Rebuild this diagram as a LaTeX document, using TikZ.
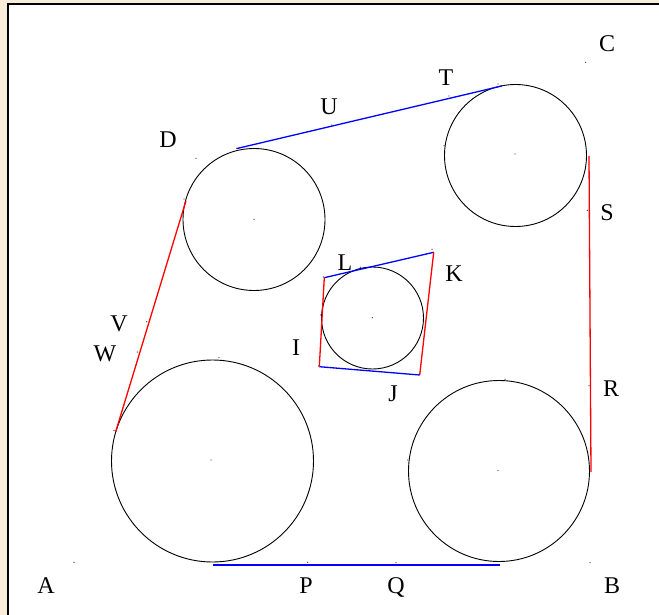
\documentclass[tikz,border=0pt]{standalone}
\usepackage{fontspec}
\setmainfont{Liberation Serif}
\definecolor{beige}{RGB}{249,236,216}
\begin{document}
\begin{tikzpicture}[x=1pt,y=-1pt,
  lbl/.style={font=\fontsize{24}{28}\selectfont, anchor=base, inner sep=0pt},
  dotm/.style={fill=black!75, draw=none},
  ring/.style={draw=black, line width=0.9pt},
  blueline/.style={blue, line width=1.3pt},
  redline/.style={red, line width=1.3pt}]
\useasboundingbox (0,0) rectangle (659,615);
\fill[beige] (0,0) rectangle (659,615);
\filldraw[fill=white, draw=black, line width=2pt] (8.3,4.3) rectangle (680,640);

% circle centres
\coordinate (c1) at (254,219.5);
\coordinate (c2) at (515.5,155.5);
\coordinate (c3) at (372.5,318);
\coordinate (c4) at (212.5,461);
\coordinate (c5) at (499,471);
\draw[ring] (c1) circle (71);
\draw[ring] (c2) circle (71);
\draw[ring] (c3) circle (51);
\draw[ring] (c4) circle (101);
\draw[ring] (c5) circle (90.5);

% belt points
\coordinate (t1) at (237,148.5);
\coordinate (t2) at (501.7,86);
\coordinate (t3) at (589,156);
\coordinate (t4) at (591,472);
\coordinate (t5) at (500.3,565);
\coordinate (t6) at (213.3,565);
\coordinate (t7) at (115.7,431.7);
\coordinate (t8) at (186,200.7);
\draw[blueline] (t1) -- (t2);
\draw[redline] (t3) -- (t4);
\draw[blueline] (t5) -- (t6);
\draw[redline] (t7) -- (t8);

% quadrilateral
\coordinate (q1) at (324.3,277.7);
\coordinate (q2) at (433.7,252.3);
\coordinate (q3) at (419.7,375);
\coordinate (q4) at (319.3,366.7);
\draw[blueline] (q1) -- (q2);
\draw[redline] (q2) -- (q3);
\draw[blueline] (q3) -- (q4);
\draw[redline] (q4) -- (q1);

% small point marks
\foreach \p in {(74,562.3),(590,562.7),(585.7,62.3),(196,158.3),(307.7,562.3),(396,562.7),
  (589,385.7),(587.3,210.3),(449,96),(331.7,125),(146.7,321.7),(137.3,352),
  (318.7,366),(418,374.3),(432,249.3),(360.3,267.3),
  (254,219.3),(515,154),(372.3,317.7),(211,460),(498,470.5),
  (236.7,148.3),(184,199),(498,84),(444,145.7),(323.3,277),(320.7,315),(375,267.7),
  (219,357.5),(114,430.3),(505,379.3),(407.7,460)}
  \fill[dotm] \p circle (0.7);

% labels
\node[lbl] (lA) at (46,593) {A};
\node[lbl] (lB) at (612,593) {B};
\node[lbl] (lC) at (607,52) {C};
\node[lbl] (lD) at (168,148) {D};
\node[lbl] (lP) at (306,593) {P};
\node[lbl] (lQ) at (396,593) {Q};
\node[lbl] (lR) at (611,396) {R};
\node[lbl] (lS) at (607,220) {S};
\node[lbl] (lT) at (446,86) {T};
\node[lbl] (lU) at (329,115) {U};
\node[lbl] (lV) at (119,331) {V};
\node[lbl] (lW) at (105,361) {W};
\node[lbl] (lI) at (296,355) {I};
\node[lbl] (lJ) at (393,401) {J};
\node[lbl] (lK) at (454,281) {K};
\node[lbl] (lL) at (345,270) {L};
\end{tikzpicture}
\end{document}
